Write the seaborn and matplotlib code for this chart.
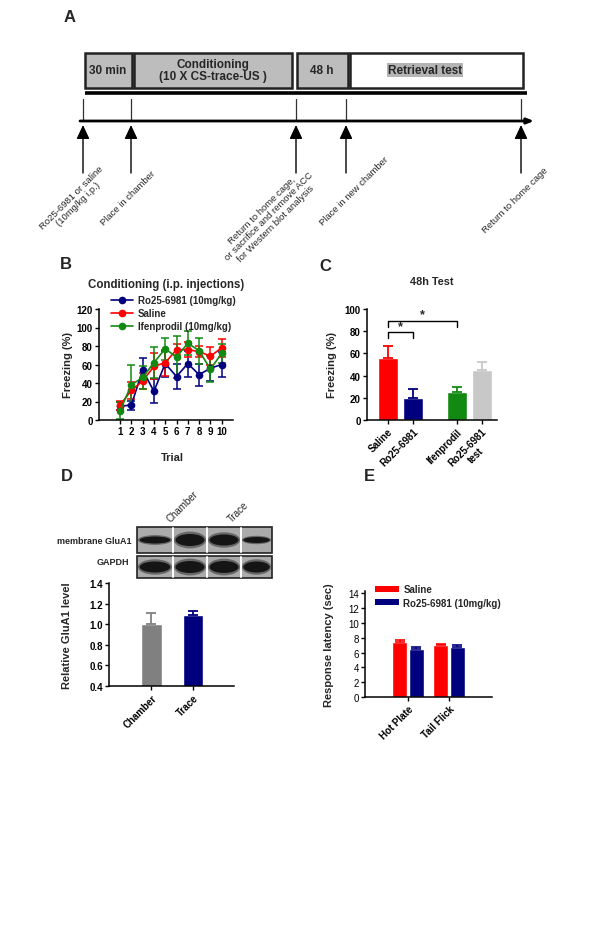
import matplotlib
matplotlib.use("Agg")
import matplotlib.pyplot as plt
from matplotlib.patches import Rectangle, Ellipse
from matplotlib.lines import Line2D
from matplotlib.patches import Patch
import pandas as pd
import seaborn as sns

# %% data
trials = list(range(1, 11))
ro_mean = [15, 16, 54, 31, 61, 47, 61, 49, 56, 60]
ro_sem = [4, 5, 13, 13, 14, 14, 14, 12, 14, 14]
sal_mean = [16, 32, 42, 58, 62, 76, 76, 74, 69, 78]
sal_sem = [5, 9, 9, 14, 14, 6, 8, 6, 10, 10]
ifen_mean = [10, 38, 46, 62, 77, 68, 83, 75, 55, 72]
ifen_sem = [9, 22, 12, 17, 12, 23, 13, 14, 14, 10]
b_groups = ["Ro25-6981 (10mg/kg)", "Saline", "Ifenprodil (10mg/kg)"]

c_groups = ["Saline", "Ro25-6981", "Ifenprodil", "Ro25-6981\ntest"]
c_mean = [56, 20, 25, 45]
c_sem = [11, 8, 5, 7]
c_pos = [0, 1, 2.75, 3.75]

d_groups = ["Chamber", "Trace"]
d_mean = [1.0, 1.09]
d_sem = [0.11, 0.04]
glua1_band = [7, 12, 11, 6]
gapdh_band = [11, 12, 12, 11]

e_tests = ["Hot Plate", "Tail Flick"]
e_groups = ["Saline", "Ro25-6981 (10mg/kg)"]
e_saline = [7.4, 6.95]
e_saline_sem = [0.25, 0.15]
e_ro = [6.5, 6.8]
e_ro_sem = [0.3, 0.25]

phases = ["30 min", "Conditioning\n(10 X CS-trace-US )", "48 h", "Retrieval test"]
events = ["Ro25-6981 or saline\n(10mg/kg i.p.)", "Place in chamber",
          "Return to home cage,\nor sacrifice and remove ACC\nfor Western blot analysis",
          "Place in new chamber", "Return to home cage"]

RED, NAVY, GREEN, LGRAY, GRAY = "#ff0000", "#00007f", "#128a12", "#c8c8c8", "#808080"

sns.set_style("ticks")
plt.rcParams["font.family"] = ["Liberation Sans", "DejaVu Sans"]
plt.rcParams["font.weight"] = "bold"
plt.rcParams["axes.labelweight"] = "bold"
plt.rcParams["axes.linewidth"] = 1.1
plt.rcParams["xtick.major.width"] = 1.0
plt.rcParams["ytick.major.width"] = 1.0
plt.rcParams["xtick.major.size"] = 3
plt.rcParams["ytick.major.size"] = 3

W, H = 600, 937
fig = plt.figure(figsize=(W / 100, H / 100), dpi=100)


def px_axes(x0, y0, x1, y1):
    return fig.add_axes([x0 / W, 1 - y1 / H, (x1 - x0) / W, (y1 - y0) / H])


def ylab_at(ax, px, x0, x1):
    ax.yaxis.set_label_coords((px - x0) / (x1 - x0), 0.5)
    ax.yaxis.label.set_va("center")


def tidy(ax):
    sns.despine(ax=ax)
    for s in ["left", "bottom"]:
        ax.spines[s].set_color("black")
    ax.tick_params(colors="black", labelsize=7, pad=1.5)


# overlay in pixel units
ov = fig.add_axes([0, 0, 1, 1])
ov.set_xlim(0, W)
ov.set_ylim(H, 0)
ov.axis("off")
ov.patch.set_alpha(0)

for lab, (x, y) in zip("ABCDE", [(70, 18), (66, 265), (325, 267), (67, 477), (369, 477)]):
    ov.text(x, y, lab, fontsize=12, fontweight="bold", ha="center", va="center")

# %% panel A: timeline
phase_edges = [(85, 132), (134, 292), (297, 348), (350, 523)]
phase_fill = ["#bdbdbd", "#bdbdbd", "#bdbdbd", "white"]
phase_tx = [108, 213, 322, 425]
for (x0, x1), lab, fc, tx in zip(phase_edges, phases, phase_fill, phase_tx):
    ov.add_patch(Rectangle((x0, 54), x1 - x0, 35, fc=fc, ec="#222222", lw=1.8))
    kw = {}
    if fc == "white":
        kw["bbox"] = dict(boxstyle="square,pad=0.1", fc="#b4b4b4", ec="none")
    ov.text(tx, 71, lab, ha="center", va="center", fontsize=8.5, fontweight="bold",
            linespacing=1.1, **kw)
ov.plot([85, 527], [94, 94], lw=2.6, color="black", solid_capstyle="butt")
event_x = [83, 131, 296, 346, 521]
label_xy = [(75, 201), (128, 198), (269, 217), (354, 191), (515, 201)]
for x, txt, (lx, ly) in zip(event_x, events, label_xy):
    ov.plot([x, x], [100, 122], lw=0.9, color="#333333")
    ov.annotate("", xy=(x, 126), xytext=(x, 174),
                arrowprops=dict(arrowstyle="-|>,head_length=0.6,head_width=0.28",
                                lw=1.0, color="black", mutation_scale=14,
                                shrinkA=0, shrinkB=0))
    ov.text(lx, ly, txt, rotation=45, rotation_mode="anchor", ha="center", va="center",
            multialignment="center", fontsize=6.8, fontweight="normal", linespacing=1.05)
ov.annotate("", xy=(534, 122), xytext=(80, 122),
            arrowprops=dict(arrowstyle="-|>,head_length=0.5,head_width=0.2", lw=2,
                            color="black", mutation_scale=8, shrinkA=0, shrinkB=0))

# %% panel B
bx0, by0, bx1, by1 = 99, 310, 233, 421
axB = px_axes(bx0, by0, bx1, by1)
dfB = pd.DataFrame({
    "Trial": trials * 3,
    "Freezing": ro_mean + sal_mean + ifen_mean,
    "sem": ro_sem + sal_sem + ifen_sem,
    "group": [g for g in b_groups for _ in trials],
})
pal_b = dict(zip(b_groups, [NAVY, RED, GREEN]))
for g in b_groups:
    d = dfB[dfB.group == g]
    axB.errorbar(d.Trial, d.Freezing, yerr=d["sem"], fmt="none", ecolor=pal_b[g],
                 elinewidth=1.1, capsize=2.8, capthick=1.1, zorder=2)
    sns.lineplot(data=d, x="Trial", y="Freezing", color=pal_b[g], marker="o",
                 markersize=5.5, markeredgewidth=0, linewidth=1.2, ax=axB, zorder=3)
axB.set_xlim(-0.86, 11.0)
axB.set_ylim(0, 120)
axB.set_xticks(trials)
axB.set_yticks(range(0, 121, 20))
tidy(axB)
axB.set_ylabel("Freezing (%)", fontsize=8)
ylab_at(axB, 68, bx0, bx1)
axB.set_xlabel("Trial", fontsize=8)
axB.xaxis.set_label_coords((172 - bx0) / (bx1 - bx0), -(458 - by1) / (by1 - by0))
axB.xaxis.label.set_va("center")
axB.set_title("Conditioning (i.p. injections)", fontsize=8.3, fontweight="bold", pad=16)
handles = [Line2D([], [], color=pal_b[g], marker="o", markersize=5.5, markeredgewidth=0, lw=1.2)
           for g in b_groups]
axB.legend(handles, b_groups, loc="upper left", bbox_to_anchor=(0.06, 1.16), frameon=False,
           handlelength=2.3, handletextpad=0.5, labelspacing=0.3,
           borderaxespad=0, prop={"weight": "bold", "size": 7})

# %% panel C
cx0, cy0, cx1, cy1 = 367, 310, 497, 421
axC = px_axes(cx0, cy0, cx1, cy1)
dfC = pd.DataFrame({"pos": c_pos, "Freezing": c_mean, "sem": c_sem, "group": c_groups})
sns.barplot(data=dfC, x="pos", y="Freezing", hue="group", palette=[RED, NAVY, GREEN, LGRAY],
            native_scale=True, width=0.8, legend=False, ax=axC, saturation=1, errorbar=None)
for p, m, s, col in zip(c_pos, c_mean, c_sem, [RED, NAVY, GREEN, LGRAY]):
    axC.errorbar(p, m, yerr=[[0], [s]], fmt="none", ecolor=col, elinewidth=1.3,
                 capsize=3.5, capthick=1.3)
axC.set_xlim(-0.83, 4.37)
axC.set_ylim(0, 100)
axC.set_yticks(range(0, 101, 20))
axC.set_xticks(c_pos)
axC.set_xticklabels(c_groups, rotation=45, ha="right", rotation_mode="anchor",
                    multialignment="center", fontweight="bold")
tidy(axC)
axC.set_xlabel("")
axC.set_ylabel("Freezing (%)", fontsize=8)
ylab_at(axC, 332, cx0, cx1)
axC.set_title("48h Test", fontsize=7.8, fontweight="bold", pad=18)
# significance brackets
for x_a, x_b, y, tick in [(c_pos[0], c_pos[1], 79, 5), (c_pos[0], c_pos[2], 89.5, 6)]:
    axC.plot([x_a, x_a, x_b, x_b], [y - tick, y, y, y - tick], color="black", lw=1)
    axC.text((x_a + x_b) / 2, y + 0.5, "*", ha="center", va="bottom", fontsize=9,
             fontweight="bold")

# %% panel D: blot + bars
lane_edges = [137, 173, 207, 241, 272]
for (top, bot), bands in [((528, 554), glua1_band), ((557, 579), gapdh_band)]:
    ov.add_patch(Rectangle((137, top), 135, bot - top, fc="#ababab", ec="#222222", lw=1.2))
    mid = (top + bot) / 2
    for i, hgt in enumerate(bands):
        cx = (lane_edges[i] + lane_edges[i + 1]) / 2
        wl = lane_edges[i + 1] - lane_edges[i]
        ov.add_patch(Ellipse((cx, mid), wl * 0.95, hgt * 1.4, fc="#3a3a3a", ec="none", alpha=0.6))
        ov.add_patch(Ellipse((cx, mid), wl * 0.85, hgt, fc="#151515", ec="none"))
    for xs in lane_edges[1:-1]:
        ov.plot([xs, xs], [top + 1, bot - 1], color="white", lw=1.4)
ov.text(132, 542, "membrane GluA1", ha="right", va="center", fontsize=6.5, fontweight="bold")
ov.text(113, 563, "GAPDH", ha="center", va="center", fontsize=6.5, fontweight="bold")
for x, lab in [(172, "Chamber"), (233, "Trace")]:
    ov.text(x, 524, lab, rotation=45, ha="left", va="bottom", rotation_mode="anchor",
            fontsize=7, fontweight="normal")

dx0, dy0, dx1, dy1 = 109, 584, 234, 687
axD = px_axes(dx0, dy0, dx1, dy1)
dfD = pd.DataFrame({"cond": d_groups, "level": d_mean})
sns.barplot(data=dfD, x="cond", y="level", hue="cond", palette=[GRAY, NAVY], width=0.5,
            legend=False, saturation=1, errorbar=None, ax=axD)
for i, (m, s, col) in enumerate(zip(d_mean, d_sem, [GRAY, NAVY])):
    axD.errorbar(i, m, yerr=[[0], [s]], fmt="none", ecolor=col, elinewidth=1.3,
                 capsize=3.5, capthick=1.3)
axD.set_xlim(-1.02, 1.99)
axD.set_ylim(0.4, 1.4)
axD.set_yticks([0.4, 0.6, 0.8, 1.0, 1.2, 1.4])
axD.set_yticklabels(["0.4", "0.6", "0.8", "1.0", "1.2", "1.4"])
axD.set_xticks([0, 1])
axD.set_xticklabels(d_groups, rotation=45, ha="right", rotation_mode="anchor", fontweight="bold")
tidy(axD)
axD.set_xlabel("")
axD.set_ylabel("Relative GluA1 level", fontsize=8)
ylab_at(axD, 67, dx0, dx1)

# %% panel E
ex0, ey0, ex1, ey1 = 365, 592, 492, 698
axE = px_axes(ex0, ey0, ex1, ey1)
dfE = pd.DataFrame({
    "test": e_tests * 2,
    "latency": e_saline + e_ro,
    "sem": e_saline_sem + e_ro_sem,
    "group": [g for g in e_groups for _ in e_tests],
})
sns.barplot(data=dfE, x="test", y="latency", hue="group", palette=[RED, NAVY], width=0.8,
            gap=0.08, saturation=1, errorbar=None, legend=False, ax=axE)
for bars, (_, row) in zip([b for c in axE.containers for b in c],
                          dfE.iterrows()):
    xc = bars.get_x() + bars.get_width() / 2
    col = RED if row.group == "Saline" else NAVY
    axE.errorbar(xc, row.latency, yerr=[[0], [row["sem"]]], fmt="none", ecolor=col,
                 elinewidth=1.2, capsize=3.5, capthick=1.2)
axE.set_xlim(-1.05, 2.05)
axE.set_ylim(0, 14.3)
axE.set_yticks(range(0, 15, 2))
axE.set_xticks([0, 1])
axE.set_xticklabels(e_tests, rotation=45, ha="right", rotation_mode="anchor", fontweight="bold")
tidy(axE)
for t in axE.get_yticklabels():
    t.set_fontweight("normal")
axE.set_xlabel("")
axE.set_ylabel("Response latency (sec)", fontsize=8)
ylab_at(axE, 329, ex0, ex1)
e_handles = [Patch(fc=RED, ec="none"), Patch(fc=NAVY, ec="none")]
axE.legend(e_handles, e_groups, loc="upper left", bbox_to_anchor=(0.05, 1.1), frameon=False,
           handlelength=2.4, handleheight=0.6, handletextpad=0.5, labelspacing=0.35,
           borderaxespad=0, prop={"weight": "bold", "size": 7})

fig.savefig("out.png", dpi=100)
